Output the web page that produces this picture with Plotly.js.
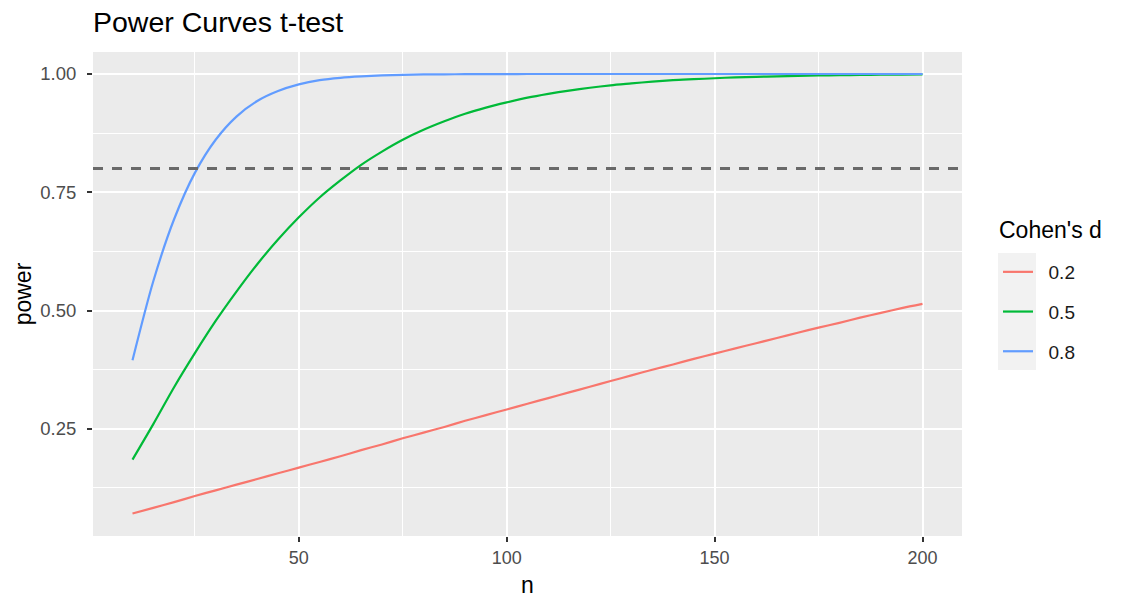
<!DOCTYPE html>
<html>
<head>
<meta charset="utf-8">
<script src="https://cdn.plot.ly/plotly-3.0.1.min.js"></script>
<style>html,body{margin:0;padding:0;background:#fff;}#chart{width:1126px;height:606px;}</style>
</head>
<body>
<div id="chart"></div>
<script>
var sampleSize = [10,15,20,25,30,35,40,45,50,55,60,65,70,75,80,85,90,95,100,105,110,115,120,125,130,135,140,145,150,155,160,165,170,175,180,185,190,195,200];
var power02 = [0.071,0.083,0.095,0.108,0.120,0.132,0.144,0.156,0.168,0.180,0.192,0.205,0.217,0.230,0.242,0.254,0.267,0.279,0.291,0.303,0.315,0.327,0.339,0.351,0.363,0.375,0.386,0.398,0.409,0.420,0.431,0.442,0.453,0.464,0.474,0.485,0.495,0.505,0.514];
var power05 = [0.185,0.260,0.338,0.410,0.478,0.540,0.598,0.650,0.697,0.739,0.775,0.808,0.836,0.861,0.882,0.900,0.916,0.929,0.940,0.950,0.958,0.965,0.971,0.976,0.980,0.984,0.987,0.989,0.991,0.993,0.994,0.995,0.996,0.997,0.9975,0.998,0.9985,0.9988,0.999];
var power08 = [0.395,0.562,0.693,0.791,0.861,0.910,0.943,0.964,0.978,0.987,0.992,0.995,0.997,0.998,0.999,0.9994,0.9996,0.9998,0.9999,1,1,1,1,1,1,1,1,1,1,1,1,1,1,1,1,1,1,1,1];
var seriesNames = ["0.2","0.5","0.8"];
var seriesColors = ["#F8766D","#00BA38","#619CFF"];
var legendTitle = "Cohen's d";
var targetPower = 0.8;

var font = "Liberation Sans, Arial, sans-serif";
var allY = [power02, power05, power08];
var traces = allY.map(function(ys, i){
  return {
    x: sampleSize, y: ys, type: "scatter", mode: "lines",
    name: "\u00a0\u00a0" + seriesNames[i], legendgroup: "g"+i,
    line: {color: seriesColors[i], width: 2.2, shape: "spline", smoothing: 0.8}
  };
});

var layout = {
  width: 1126, height: 606,
  margin: {l: 93, r: 164, t: 52, b: 70},
  paper_bgcolor: "#ffffff",
  plot_bgcolor: "#EBEBEB",
  font: {family: font, color: "#000"},
  title: {text: "Power Curves t-test", font: {family: font, size: 28.5, color: "#000"},
          x: 0, xref: "paper", xanchor: "left", y: 1 - 22/606, yanchor: "middle"},
  xaxis: {
    range: [0.5, 209.5], dtick: 50, tick0: 0, zeroline: false,
    showgrid: true, gridcolor: "#ffffff", gridwidth: 2,
    minor: {dtick: 25, tick0: 0, showgrid: true, gridcolor: "#ffffff", gridwidth: 1, ticks: ""},
    ticks: "outside", ticklen: 5, tickwidth: 2, tickcolor: "#333333",
    tickfont: {family: font, size: 18, color: "#4D4D4D"},
    title: {text: "n", font: {family: font, size: 23, color: "#000"}, standoff: 10},
    showline: false
  },
  yaxis: {
    range: [0.0235, 1.0465], dtick: 0.25, tick0: 0, tickformat: ".2f", zeroline: false,
    showgrid: true, gridcolor: "#ffffff", gridwidth: 2,
    minor: {dtick: 0.125, tick0: 0, showgrid: true, gridcolor: "#ffffff", gridwidth: 1, ticks: ""},
    ticks: "outside", ticklen: 5, tickwidth: 2, tickcolor: "#333333",
    ticklabelstandoff: 7,
    tickfont: {family: font, size: 18.5, color: "#4D4D4D"},
    title: {text: "power", font: {family: font, size: 23, color: "#000"}, standoff: 2},
    showline: false
  },
  showlegend: true,
  legend: {
    x: (998-93)/869, xanchor: "left", y: (536-312)/484, yanchor: "middle",
    bgcolor: "rgba(0,0,0,0)", tracegroupgap: 12,
    font: {family: font, size: 19, color: "#1a1a1a"}
  },
  annotations: [
    {text: legendTitle, xref: "paper", yref: "paper", x: (997-93)/869, y: (536-230)/484,
     xanchor: "left", yanchor: "middle", showarrow: false,
     font: {family: font, size: 23, color: "#000"}}
  ],
  shapes: [
    {type: "rect", xref: "paper", yref: "paper",
     x0: (998-93)/869, x1: (1036-93)/869, y0: (536-370)/484, y1: (536-253)/484,
     fillcolor: "#F2F2F2", line: {width: 0}, layer: "below"},
    {type: "line", xref: "paper", yref: "y", x0: 0, x1: 1, y0: targetPower, y1: targetPower,
     line: {color: "#696969", width: 3, dash: "10px,9px"}}
  ]
};

Plotly.newPlot("chart", traces, layout, {displayModeBar: false, staticPlot: true});
</script>
</body>
</html>
